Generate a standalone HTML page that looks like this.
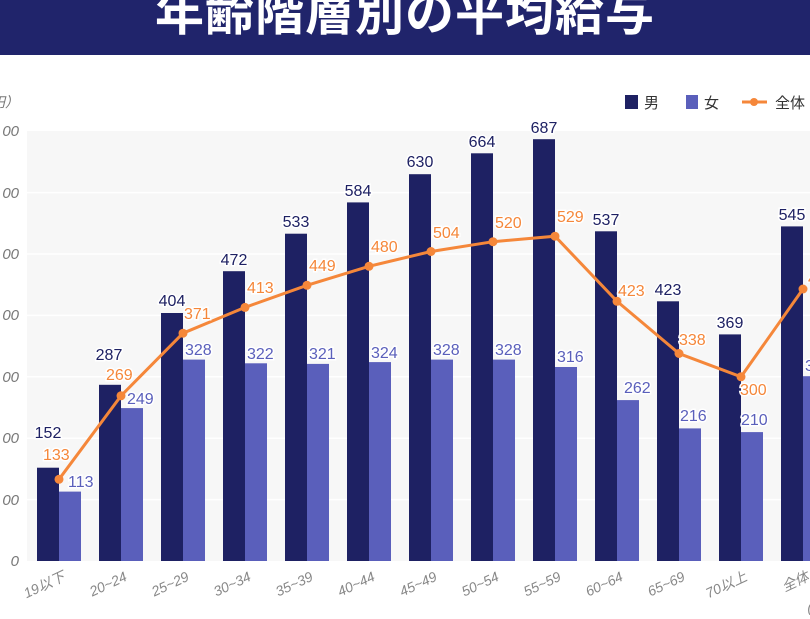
<!DOCTYPE html>
<html><head><meta charset="utf-8"><style>
html,body{margin:0;padding:0;background:#fff;width:810px;height:619px;overflow:hidden}
svg{display:block;font-family:"Liberation Sans","Noto Sans CJK JP",sans-serif}
</style></head><body>
<svg width="810" height="619" viewBox="0 0 810 619" xmlns="http://www.w3.org/2000/svg">
<rect x="0" y="0" width="810" height="55" fill="#20246b"/>
<text x="405" y="30" text-anchor="middle" fill="#fff" font-size="49" font-weight="bold" letter-spacing="1" font-family="'Noto Sans CJK JP',sans-serif">年齢階層別の平均給与</text>
<rect x="27" y="131" width="783" height="430" fill="#f7f7f7"/>
<g stroke="#fff" stroke-width="1.5">
<line x1="27" x2="810" y1="499.6" y2="499.6"/><line x1="27" x2="810" y1="438.2" y2="438.2"/><line x1="27" x2="810" y1="376.8" y2="376.8"/><line x1="27" x2="810" y1="315.4" y2="315.4"/><line x1="27" x2="810" y1="254" y2="254"/><line x1="27" x2="810" y1="192.6" y2="192.6"/>
</g>
<g fill="#777" font-size="15" font-style="italic" text-anchor="end">
<text x="19" y="566">0</text><text x="19" y="505">00</text><text x="19" y="443">00</text><text x="19" y="382">00</text><text x="19" y="320">00</text><text x="19" y="259">00</text><text x="19" y="198">00</text><text x="19" y="136">00</text>
<text x="19" y="107" font-family="'Noto Sans CJK JP',sans-serif" font-size="14">円）</text>
</g>
<g fill="#1e2163">
<rect x="37" y="467.7" width="22" height="93.3"/><rect x="99" y="384.8" width="22" height="176.2"/><rect x="161" y="313" width="22" height="248"/><rect x="223" y="271.2" width="22" height="289.8"/><rect x="285" y="233.7" width="22" height="327.3"/><rect x="347" y="202.4" width="22" height="358.6"/><rect x="409" y="174.2" width="22" height="386.8"/><rect x="471" y="153.3" width="22" height="407.7"/><rect x="533" y="139.2" width="22" height="421.8"/><rect x="595" y="231.3" width="22" height="329.7"/><rect x="657" y="301.3" width="22" height="259.7"/><rect x="719" y="334.4" width="22" height="226.6"/><rect x="781" y="226.4" width="22" height="334.6"/>
</g>
<g fill="#5a5fbb">
<rect x="59" y="491.6" width="22" height="69.4"/><rect x="121" y="408.1" width="22" height="152.9"/><rect x="183" y="359.6" width="22" height="201.4"/><rect x="245" y="363.3" width="22" height="197.7"/><rect x="307" y="363.9" width="22" height="197.1"/><rect x="369" y="362.1" width="22" height="198.9"/><rect x="431" y="359.6" width="22" height="201.4"/><rect x="493" y="359.6" width="22" height="201.4"/><rect x="555" y="367" width="22" height="194"/><rect x="617" y="400.1" width="22" height="160.9"/><rect x="679" y="428.4" width="22" height="132.6"/><rect x="741" y="432.1" width="22" height="128.9"/><rect x="803" y="376.2" width="22" height="184.8"/>
</g>
<polyline fill="none" stroke="#f5873a" stroke-width="3" points="59,479.3 121,395.8 183,333.2 245,307.4 307,285.3 369,266.3 431,251.5 493,241.7 555,236.2 617,301.3 679,353.5 741,376.8 803,289"/>
<g fill="#f5873a">
<circle cx="59" cy="479.3" r="4.5"/><circle cx="121" cy="395.8" r="4.5"/><circle cx="183" cy="333.2" r="4.5"/><circle cx="245" cy="307.4" r="4.5"/><circle cx="307" cy="285.3" r="4.5"/><circle cx="369" cy="266.3" r="4.5"/><circle cx="431" cy="251.5" r="4.5"/><circle cx="493" cy="241.7" r="4.5"/><circle cx="555" cy="236.2" r="4.5"/><circle cx="617" cy="301.3" r="4.5"/><circle cx="679" cy="353.5" r="4.5"/><circle cx="741" cy="376.8" r="4.5"/><circle cx="803" cy="289" r="4.5"/>
</g>
<g font-size="16" fill="#1e2163" text-anchor="middle" stroke="#fff" stroke-width="3" paint-order="stroke">
<text x="48" y="438">152</text><text x="109" y="360">287</text><text x="172" y="306">404</text><text x="234" y="265">472</text><text x="296" y="227">533</text><text x="358" y="196">584</text><text x="420" y="167">630</text><text x="482" y="147">664</text><text x="544" y="133">687</text><text x="606" y="225">537</text><text x="668" y="295">423</text><text x="730" y="328">369</text><text x="792" y="220">545</text>
</g>
<g font-size="16" fill="#5a5fbb" stroke="#fff" stroke-width="3" paint-order="stroke">
<text x="68" y="487">113</text><text x="127" y="404">249</text><text x="185" y="355">328</text><text x="247" y="359">322</text><text x="309" y="359">321</text><text x="371" y="358">324</text><text x="433" y="355">328</text><text x="495" y="355">328</text><text x="557" y="362">316</text><text x="624" y="393">262</text><text x="680" y="421">216</text><text x="741" y="425">210</text><text x="805" y="371">3</text>
</g>
<g font-size="16" fill="#f5873a" stroke="#fff" stroke-width="3" paint-order="stroke">
<text x="43" y="460">133</text><text x="106" y="380">269</text><text x="184" y="319">371</text><text x="247" y="293">413</text><text x="309" y="271">449</text><text x="371" y="252">480</text><text x="433" y="238">504</text><text x="495" y="228">520</text><text x="557" y="222">529</text><text x="618" y="296">423</text><text x="679" y="345">338</text><text x="740" y="395">300</text><text x="808" y="284">4</text>
</g>
<g fill="#888" font-size="14" font-style="italic" text-anchor="end" font-family="'Liberation Sans','Noto Sans CJK JP',sans-serif">
<text transform="translate(66,580) rotate(-25)">19以下</text>
<text transform="translate(128,580) rotate(-25)">20~24</text>
<text transform="translate(190,580) rotate(-25)">25~29</text>
<text transform="translate(252,580) rotate(-25)">30~34</text>
<text transform="translate(314,580) rotate(-25)">35~39</text>
<text transform="translate(376,580) rotate(-25)">40~44</text>
<text transform="translate(438,580) rotate(-25)">45~49</text>
<text transform="translate(500,580) rotate(-25)">50~54</text>
<text transform="translate(562,580) rotate(-25)">55~59</text>
<text transform="translate(624,580) rotate(-25)">60~64</text>
<text transform="translate(686,580) rotate(-25)">65~69</text>
<text transform="translate(748,580) rotate(-25)">70以上</text>
<text transform="translate(810,580) rotate(-25)">全体</text>
<text x="812" y="612">(</text>
</g>
<rect x="625" y="95" width="13" height="14" fill="#1e2163"/>
<text x="644" y="108" font-size="15" fill="#333" font-family="'Noto Sans CJK JP',sans-serif">男</text>
<rect x="686" y="95" width="12" height="14" fill="#5a5fbb"/>
<text x="704" y="108" font-size="15" fill="#333" font-family="'Noto Sans CJK JP',sans-serif">女</text>
<line x1="742" y1="102" x2="767" y2="102" stroke="#f5873a" stroke-width="3"/>
<circle cx="754" cy="102" r="4" fill="#f5873a"/>
<text x="775" y="108" font-size="15" fill="#333" font-family="'Noto Sans CJK JP',sans-serif">全体</text>
</svg>
</body></html>
